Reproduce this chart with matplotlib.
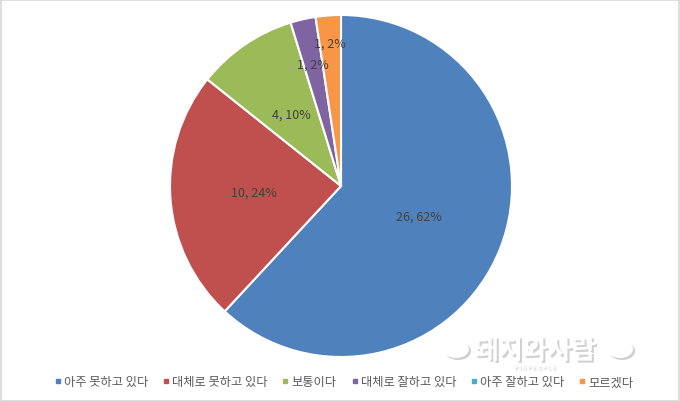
import matplotlib
matplotlib.use("Agg")
import matplotlib.pyplot as plt
import matplotlib.patheffects as pe
from matplotlib.patches import Rectangle, Ellipse
from matplotlib.lines import Line2D
import numpy as np

plt.rcParams['font.family'] = ['Noto Sans CJK KR', 'DejaVu Sans']

categories = ['아주 못하고 있다', '대체로 못하고 있다', '보통이다', '대체로 잘하고 있다', '아주 잘하고 있다', '모르겠다']
values = [26, 10, 4, 1, 0, 1]
percents = [62, 24, 10, 2, 0, 2]
colors = ['#4F81BD', '#C0504D', '#9BBB59', '#8064A2', '#4BACC6', '#F79646']
label_dist = [0.49, 0.51, 0.51, 0.73, 0.0, 0.84]

W, H = 680, 402
fig = plt.figure(figsize=(W / 100, H / 100), dpi=100)
fig.patch.set_facecolor('white')

cx, cy, r = 341, 187, 171
ax = fig.add_axes([(cx - r) / W, 1 - (cy + r) / H, 2 * r / W, 2 * r / H])
ax.set_aspect('equal')

draw_idx = [i for i, v in enumerate(values) if v > 0]
wedges, _ = ax.pie([values[i] for i in draw_idx], colors=[colors[i] for i in draw_idx],
                   startangle=90, counterclock=False, radius=1.0,
                   wedgeprops=dict(edgecolor='white', linewidth=1.5))
for w, i in zip(wedges, draw_idx):
    mid = np.deg2rad((w.theta1 + w.theta2) / 2)
    d = label_dist[i]
    ax.text(d * np.cos(mid), d * np.sin(mid), f'{values[i]}, {percents[i]}%',
            ha='center', va='center', fontsize=9, color='#404040')
ax.set_xlim(-1, 1)
ax.set_ylim(-1, 1)
ax.axis('off')

handles = [Line2D([0], [0], marker='s', linestyle='none', markersize=3.5,
                  markerfacecolor=c, markeredgecolor=c) for c in colors]
fig.legend(handles, categories, loc='center', bbox_to_anchor=(0.505, 1 - 383 / H),
           ncol=6, frameon=False, fontsize=8.8, labelcolor='#595959',
           handletextpad=0.15, columnspacing=1.12, handlelength=0.7)

# watermark
shadow = [pe.SimplePatchShadow(offset=(1.5, -1.5), shadow_rgbFace='#999999', alpha=0.45), pe.Normal()]
fig.text(535 / W, 1 - 352 / H, '돼지와사람', ha='center', va='center', fontsize=19,
         fontweight='bold', color='white', path_effects=shadow)
fig.text(535 / W, 1 - 369 / H, 'P I G P E O P L E', ha='center', va='center', fontsize=4,
         color='white', fontweight='bold',
         path_effects=[pe.SimplePatchShadow(offset=(0.8, -0.8), shadow_rgbFace='#bbbbbb', alpha=0.6),
                       pe.Normal()])
for ex, ew in [(456, 26), (620, 26)]:
    e = Ellipse((ex / W, 1 - 350 / H), ew / W, 18 / H, transform=fig.transFigure,
                facecolor='white', edgecolor='none', path_effects=shadow)
    fig.add_artist(e)

fig.add_artist(Rectangle((0.5 / W, 0.5 / H), 1 - 1.5 / W, 1 - 1.5 / H, transform=fig.transFigure,
                         fill=False, edgecolor='#D9D9D9', linewidth=1.2))

fig.savefig('out.png', dpi=100, facecolor='white')
